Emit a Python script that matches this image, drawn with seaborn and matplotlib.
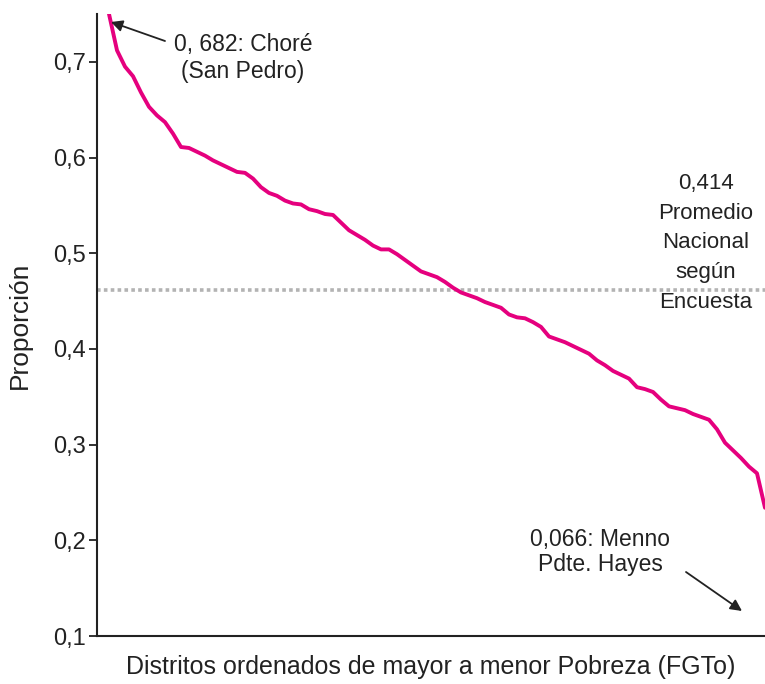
import numpy as np
import pandas as pd
import matplotlib
matplotlib.use("Agg")
import matplotlib.pyplot as plt
import seaborn as sns

# Proporción de pobres por distrito, ordenado de mayor a menor (lectura del gráfico)
proporcion = [
    0.750, 0.712, 0.695, 0.685, 0.668, 0.653, 0.644, 0.637, 0.625, 0.611,
    0.610, 0.606, 0.602, 0.597, 0.593, 0.589, 0.585, 0.584, 0.578, 0.569,
    0.563, 0.560, 0.555, 0.552, 0.551, 0.546, 0.544, 0.541, 0.540, 0.532,
    0.524, 0.519, 0.514, 0.508, 0.504, 0.504, 0.499, 0.493, 0.487, 0.481,
    0.478, 0.475, 0.470, 0.464, 0.459, 0.456, 0.453, 0.449, 0.446, 0.443,
    0.436, 0.433, 0.432, 0.428, 0.423, 0.413, 0.410, 0.407, 0.403, 0.399,
    0.395, 0.388, 0.383, 0.377, 0.373, 0.369, 0.360, 0.358, 0.355, 0.347,
    0.340, 0.338, 0.336, 0.332, 0.329, 0.326, 0.316, 0.302, 0.294, 0.286,
    0.277, 0.270, 0.234,
]
distrito = np.arange(len(proporcion))
promedio_linea = 0.462

y_ticks = [0.1, 0.2, 0.3, 0.4, 0.5, 0.6, 0.7]
y_labels = ["0,1", "0,2", "0,3", "0,4", "0,5", "0,6", "0,7"]

df = pd.DataFrame({"distrito": distrito, "proporcion": proporcion})

sns.set_style("ticks")
plt.rcParams["font.family"] = ["Liberation Sans", "DejaVu Sans"]
TXT = "#222222"

fig = plt.figure(figsize=(7.65, 6.84), dpi=100)
ax = fig.add_axes([97 / 765, 48 / 684, 1 - 97 / 765, (636 - 14) / 684])

ax.axhline(promedio_linea, color="#b3b3b3", lw=2.6, ls=(0, (1, 0.9)), zorder=1)
sns.lineplot(data=df, x="distrito", y="proporcion", color="#e5007e", lw=2.8, ax=ax, zorder=2)

ax.set_xlim(-1.5, len(proporcion) - 1)
ax.set_ylim(0.1, 0.75)
ax.set_yticks(y_ticks)
ax.set_yticklabels(y_labels, fontsize=17, color=TXT)
ax.set_xticks([])
ax.tick_params(axis="y", length=6, width=1.3, color=TXT, pad=2)
sns.despine(ax=ax)
for s in ["left", "bottom"]:
    ax.spines[s].set_linewidth(1.5)
    ax.spines[s].set_color(TXT)

ax.set_xlabel("Distritos ordenados de mayor a menor Pobreza (FGTo)", fontsize=18,
              labelpad=14, color=TXT)
ax.set_ylabel("Proporción", fontsize=19, labelpad=15, color=TXT)

# Anotaciones
flecha = dict(arrowstyle="-|>", color=TXT, lw=1.3, mutation_scale=17, shrinkA=0, shrinkB=0)
ax.annotate("", xy=(111, 662), xycoords="figure pixels",
            xytext=(165, 643), textcoords="figure pixels", arrowprops=flecha)
fig.text(243 / 765, 1 - 58 / 684, "0, 682: Choré\n(San Pedro)", ha="center", va="center",
         fontsize=16.5, linespacing=1.2, color=TXT)

fig.text(706 / 765, 1 - 243 / 684, "0,414\nPromedio\nNacional\nsegún\nEncuesta",
         ha="center", va="center", fontsize=16, linespacing=1.55, color=TXT)

ax.annotate("", xy=(742, 73), xycoords="figure pixels",
            xytext=(686, 112), textcoords="figure pixels", arrowprops=flecha)
fig.text(600 / 765, 1 - 552 / 684, "0,066: Menno\nPdte. Hayes", ha="center", va="center",
         fontsize=16.5, linespacing=1.12, color=TXT)

fig.savefig("out.png", dpi=100)
